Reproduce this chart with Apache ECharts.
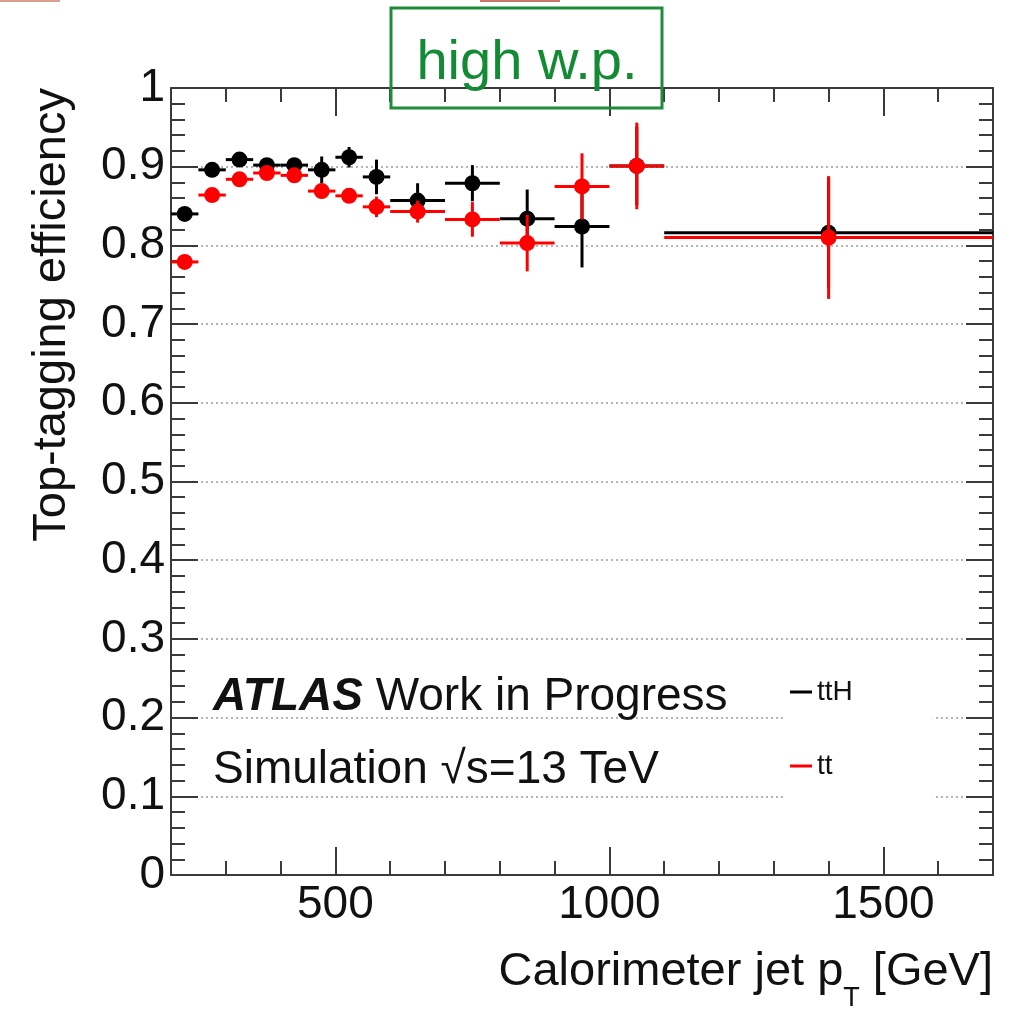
<!DOCTYPE html>
<html><head><meta charset="utf-8">
<script src="https://cdn.jsdelivr.net/npm/echarts@6/dist/echarts.min.js"></script>
<style>html,body{margin:0;padding:0;background:#fff}#c{width:1018px;height:1013px}</style>
</head><body><div id="c"></div>
<script>
// ---- data ----
const binLo = [200, 250, 300, 350, 400, 450, 500, 550, 600, 700, 800, 900, 1000, 1100];
const binHi = [250, 300, 350, 400, 450, 500, 550, 600, 700, 800, 900, 1000, 1100, 1700];
const ttH    = [0.840, 0.896, 0.909, 0.902, 0.902, 0.896, 0.912, 0.887, 0.857, 0.879, 0.834, 0.824, 0.901, 0.816];
const ttHErr = [0.005, 0.005, 0.005, 0.007, 0.008, 0.017, 0.013, 0.022, 0.022, 0.023, 0.037, 0.052, 0.050, 0.070];
const tt     = [0.779, 0.864, 0.884, 0.892, 0.889, 0.869, 0.863, 0.849, 0.843, 0.833, 0.803, 0.875, 0.901, 0.810];
const ttErr  = [0.004, 0.004, 0.004, 0.005, 0.006, 0.007, 0.008, 0.013, 0.014, 0.022, 0.036, 0.042, 0.055, 0.078];
const xMajorTicks = [500, 1000, 1500];
const seriesNames = ['ttH', 'tt'];

const FONT = "'Liberation Sans', Arial, Helvetica, sans-serif";
const AX = '#3a3a3a';
const chart = echarts.init(document.getElementById('c'));

function errRender(color) {
  return function (params, api) {
    const lo = api.value(0), hi = api.value(1), y = api.value(2), e = api.value(3);
    const mid = (lo + hi) / 2;
    const a = api.coord([lo, y]), b = api.coord([hi, y]);
    const t = api.coord([mid, y + e]), d = api.coord([mid, y - e]);
    const c = api.coord([mid, y]);
    const ls = { stroke: color, lineWidth: 3 };
    return { type: 'group', children: [
      { type: 'line', shape: { x1: a[0], y1: a[1], x2: b[0], y2: b[1] }, style: ls },
      { type: 'line', shape: { x1: t[0], y1: t[1], x2: d[0], y2: d[1] }, style: ls },
      { type: 'circle', shape: { cx: c[0], cy: c[1], r: 8 }, style: { fill: color } }
    ]};
  };
}
const mk = (vals, errs) => binLo.map((lo, i) => [lo, binHi[i], vals[i], errs[i]]);

const lineStyle = { color: AX, width: 2 };
function xMajor(pos, labels) {
  return { type: 'value', position: pos, min: 200, max: 1700,
    axisLine: { show: true, lineStyle },
    axisTick: { show: true, inside: true, length: 28, customValues: xMajorTicks, lineStyle },
    axisLabel: labels ? { show: true, customValues: xMajorTicks, formatter: v => String(v), fontSize: 46, fontFamily: FONT, color: '#111', margin: 7 } : { show: false },
    splitLine: { show: false } };
}
function xMinor(pos) {
  return { type: 'value', position: pos, min: 200, max: 1700, interval: 100,
    axisLine: { show: false }, axisTick: { show: true, inside: true, length: 14, lineStyle },
    axisLabel: { show: false }, splitLine: { show: false } };
}
function yAx(pos, main) {
  return { type: 'value', position: pos, min: 0, max: 1, interval: 0.1,
    axisLine: { show: true, lineStyle },
    axisTick: { show: true, inside: true, length: 27, lineStyle },
    minorTick: { show: true, splitNumber: 5, length: 14, lineStyle },
    axisLabel: main ? { show: true, fontSize: 46, fontFamily: FONT, color: '#111', margin: 6 } : { show: false },
    splitLine: main ? { show: true, lineStyle: { type: [2, 3], color: '#9a9a9a', width: 1.5 } } : { show: false } };
}

chart.setOption({
  animation: false,
  backgroundColor: '#fff',
  grid: { left: 171, right: 25, top: 88, bottom: 138, containLabel: false, outerBoundsMode: 'none' },
  xAxis: [xMajor('bottom', true), xMinor('bottom'), xMajor('top', false), xMinor('top')],
  yAxis: [yAx('left', true), yAx('right', false)],
  legend: {
    orient: 'vertical', left: 786, top: 674, backgroundColor: '#fff',
    padding: [4, 80, 30, 4], itemGap: 46, itemWidth: 22, itemHeight: 3,
    textStyle: { fontSize: 28, fontFamily: FONT, color: '#111' },
    data: [{ name: seriesNames[0], icon: 'rect' }, { name: seriesNames[1], icon: 'rect' }]
  },
  series: [
    { type: 'custom', name: seriesNames[0], xAxisIndex: 0, yAxisIndex: 0, renderItem: errRender('#000'),
      data: mk(ttH, ttHErr), encode: { x: [0, 1], y: 2 }, itemStyle: { color: '#000' }, z: 3 },
    { type: 'custom', name: seriesNames[1], xAxisIndex: 0, yAxisIndex: 0, renderItem: errRender('#ff0000'),
      data: mk(tt, ttErr), encode: { x: [0, 1], y: 2 }, itemStyle: { color: '#ff0000' }, z: 4 }
  ],
  graphic: [
    { type: 'text', x: 52, y: 88, rotation: Math.PI / 2, z: 10,
      style: { text: 'Top-tagging efficiency', fontSize: 47, fontFamily: FONT, fill: '#111', align: 'right', verticalAlign: 'middle' } },
    { type: 'text', x: 993, y: 972, z: 10,
      style: { text: 'Calorimeter jet p{s|T} [GeV]', fontSize: 47, lineHeight: 80, fontFamily: FONT, fill: '#111',
        align: 'right', verticalAlign: 'middle',
        rich: { s: { fontSize: 27, lineHeight: 27, fontFamily: FONT, fill: '#111', verticalAlign: 'bottom' } } } },
    { type: 'text', x: 213, y: 697, z: 10,
      style: { text: '{b|ATLAS} Work in Progress', fontSize: 46, fontFamily: FONT, fill: '#111', verticalAlign: 'middle',
        rich: { b: { fontSize: 46, fontFamily: FONT, fontStyle: 'italic', fontWeight: 'bold', fill: '#111' } } } },
    { type: 'text', x: 213, y: 770, z: 10,
      style: { text: 'Simulation √s=13 TeV', fontSize: 46, fontFamily: FONT, fill: '#111', verticalAlign: 'middle' } },
    { type: 'rect', z: 20, shape: { x: 391, y: 8, width: 271, height: 100 },
      style: { fill: 'none', stroke: '#1e8c3a', lineWidth: 3 } },
    { type: 'text', x: 527, y: 64, z: 20,
      style: { text: 'high w.p.', fontSize: 56, fontFamily: FONT, fill: '#138a34', align: 'center', verticalAlign: 'middle' } },
    { type: 'rect', z: 20, shape: { x: 0, y: 0, width: 60, height: 2 }, style: { fill: '#d9a090' } },
    { type: 'rect', z: 20, shape: { x: 480, y: 0, width: 80, height: 2 }, style: { fill: '#c9796a' } }
  ]
});
</script></body></html>
